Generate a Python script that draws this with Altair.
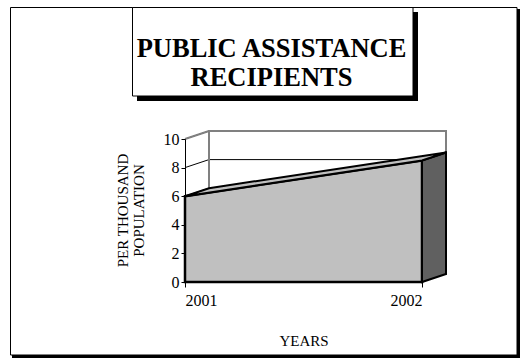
import altair as alt
import pandas as pd

# --- data -------------------------------------------------------------
YEARS = [2001, 2002]
RECIPIENTS_PER_THOUSAND = [6.0, 8.5]
Y_TICKS = [0, 2, 4, 6, 8, 10]
TITLE_LINES = ["PUBLIC ASSISTANCE", "RECIPIENTS"]
Y_TITLE = ["PER THOUSAND", "POPULATION"]
X_TITLE = "YEARS"

# --- geometry of the plot area ------------------------------------------
PLOT_W, PLOT_H = 237, 143
PAD = {"left": 185, "top": 139, "right": 98, "bottom": 76}
DEPTH_PX = (24, 8)  # 3-D depth vector (right, up) in pixels

Y_MIN, Y_MAX = Y_TICKS[0], Y_TICKS[-1]
X0, X1 = YEARS[0], YEARS[-1]
DX = DEPTH_PX[0] / PLOT_W * (X1 - X0)
DY = DEPTH_PX[1] / PLOT_H * (Y_MAX - Y_MIN)

FONT = "Liberation Serif"
FRONT_FILL = "#c0c0c0"
SIDE_FILL = "#606060"
WALL_EDGE = "#808080"


def px(abs_x):
    return abs_x - PAD["left"]


def py(abs_y):
    return abs_y - PAD["top"]


x_scale = alt.Scale(domain=[X0, X1], nice=False, zero=False)
y_scale = alt.Scale(domain=[Y_MIN, Y_MAX], nice=False)

# axis title positions are relative to each axis group's origin
x_axis = alt.Axis(values=YEARS, format="d", title=X_TITLE, grid=False,
                  domainColor="black", tickColor="black", tickSize=5,
                  labelPadding=5, titleY=345 - (PAD["top"] + PLOT_H),
                  titleBaseline="alphabetic", zindex=1)
y_axis = alt.Axis(values=Y_TICKS, title=Y_TITLE, grid=False,
                  domainColor="black", tickColor="black", tickSize=4,
                  labelPadding=2, titleX=px(130), titleY=py(210),
                  titleBaseline="bottom", titleLineHeight=16, zindex=1)


def X(field):
    return alt.X(field, type="quantitative", scale=x_scale, axis=x_axis)


def Y(field):
    return alt.Y(field, type="quantitative", scale=y_scale, axis=y_axis)


v0, v1 = RECIPIENTS_PER_THOUSAND[0], RECIPIENTS_PER_THOUSAND[-1]

front = pd.DataFrame({"year": YEARS, "value": RECIPIENTS_PER_THOUSAND})
side = pd.DataFrame({
    "year": [X1, X1 + DX],
    "top": [v1, v1 + DY],
    "base": [Y_MIN, Y_MIN + DY],
})
top_face = pd.DataFrame({
    "year": [X0, X0 + DX, X1 + DX, X1, X0],
    "value": [v0, v0 + DY, v1 + DY, v1, v0],
    "k": [0, 1, 2, 3, 4],
})
wall = pd.DataFrame({"x": [X0 + DX], "x2": [X1 + DX],
                     "y": [Y_MIN + DY], "y2": [Y_MAX + DY]})
grid = pd.DataFrame({"v": Y_TICKS})
grid["xb"] = X0 + DX
grid["xe"] = X1 + DX
grid["x0"] = X0
grid["vb"] = grid["v"] + DY

# --- page frame and title box --------------------------------------------
base = alt.Chart(pd.DataFrame({"_": [0]}))

frame_shadow = base.mark_rect(fill="black").encode(
    x=alt.value(px(12)), x2=alt.value(px(520)),
    y=alt.value(py(9)), y2=alt.value(py(358)))
frame = base.mark_rect(fill="white", stroke="black", strokeWidth=1).encode(
    x=alt.value(px(10.5)), x2=alt.value(px(517)),
    y=alt.value(py(7.5)), y2=alt.value(py(355)))

title_shadow = base.mark_rect(fill="black").encode(
    x=alt.value(px(137)), x2=alt.value(px(418)),
    y=alt.value(py(12)), y2=alt.value(py(101)))
title_box = base.mark_rect(fill="white", stroke="black", strokeWidth=1).encode(
    x=alt.value(px(132.5)), x2=alt.value(px(413)),
    y=alt.value(py(7.5)), y2=alt.value(py(96)))
title_text = alt.layer(*[
    base.mark_text(font=FONT, fontSize=26.5, fontWeight="bold", color="black",
                   align="center", baseline="alphabetic").encode(
        x=alt.value(px(271.5)), y=alt.value(py(57 + 29 * i)),
        text=alt.value(line))
    for i, line in enumerate(TITLE_LINES)
])

# --- back wall and gridlines ----------------------------------------------
wall_fill = alt.Chart(wall).mark_rect(fill="white").encode(
    x=X("x"), x2="x2", y=Y("y"), y2="y2")

grid_diag = alt.Chart(grid).mark_rule(color="black", strokeWidth=1).encode(
    x=X("x0"), x2="xb", y=Y("v"), y2="vb")
grid_back = alt.Chart(grid).mark_rule(color="black", strokeWidth=1).encode(
    x=X("xb"), x2="xe", y=Y("vb"))

wall_edge = alt.Chart(wall).mark_rect(
    fill=None, stroke=WALL_EDGE, strokeWidth=2).encode(
    x=X("x"), x2="x2", y=Y("y"), y2="y2")
side_wall_top = alt.Chart(grid[grid["v"] == Y_MAX]).mark_rule(
    color=WALL_EDGE, strokeWidth=2).encode(
    x=X("x0"), x2="xb", y=Y("v"), y2="vb")

# --- the 3-D area ------------------------------------------------------------
front_area = alt.Chart(front).mark_area(
    fill=FRONT_FILL, stroke="black", strokeWidth=2.5, strokeJoin="miter").encode(
    x=X("year"), y=Y("value"), y2=alt.datum(Y_MIN))

side_face = alt.Chart(side).mark_area(
    fill=SIDE_FILL, stroke="black", strokeWidth=2).encode(
    x=X("year"), y=Y("top"), y2="base")

top = alt.Chart(top_face).mark_line(
    fill=FRONT_FILL, stroke="black", strokeWidth=2, strokeJoin="miter").encode(
    x=X("year"), y=Y("value"), order="k:Q")

chart = alt.layer(
    frame_shadow, frame, title_shadow, title_box, title_text,
    wall_fill, grid_diag, grid_back, wall_edge, side_wall_top,
    front_area, side_face, top,
).properties(
    width=PLOT_W, height=PLOT_H,
    padding=PAD,
    autosize=alt.AutoSizeParams(type="none"),
    background="white",
).configure_view(stroke=None).configure_axis(
    labelFont=FONT, labelFontSize=16, labelColor="black",
    titleFont=FONT, titleFontSize=15, titleFontWeight="normal", titleColor="black",
)

chart.save("out.html", embed_options={"renderer": "svg", "actions": False})
